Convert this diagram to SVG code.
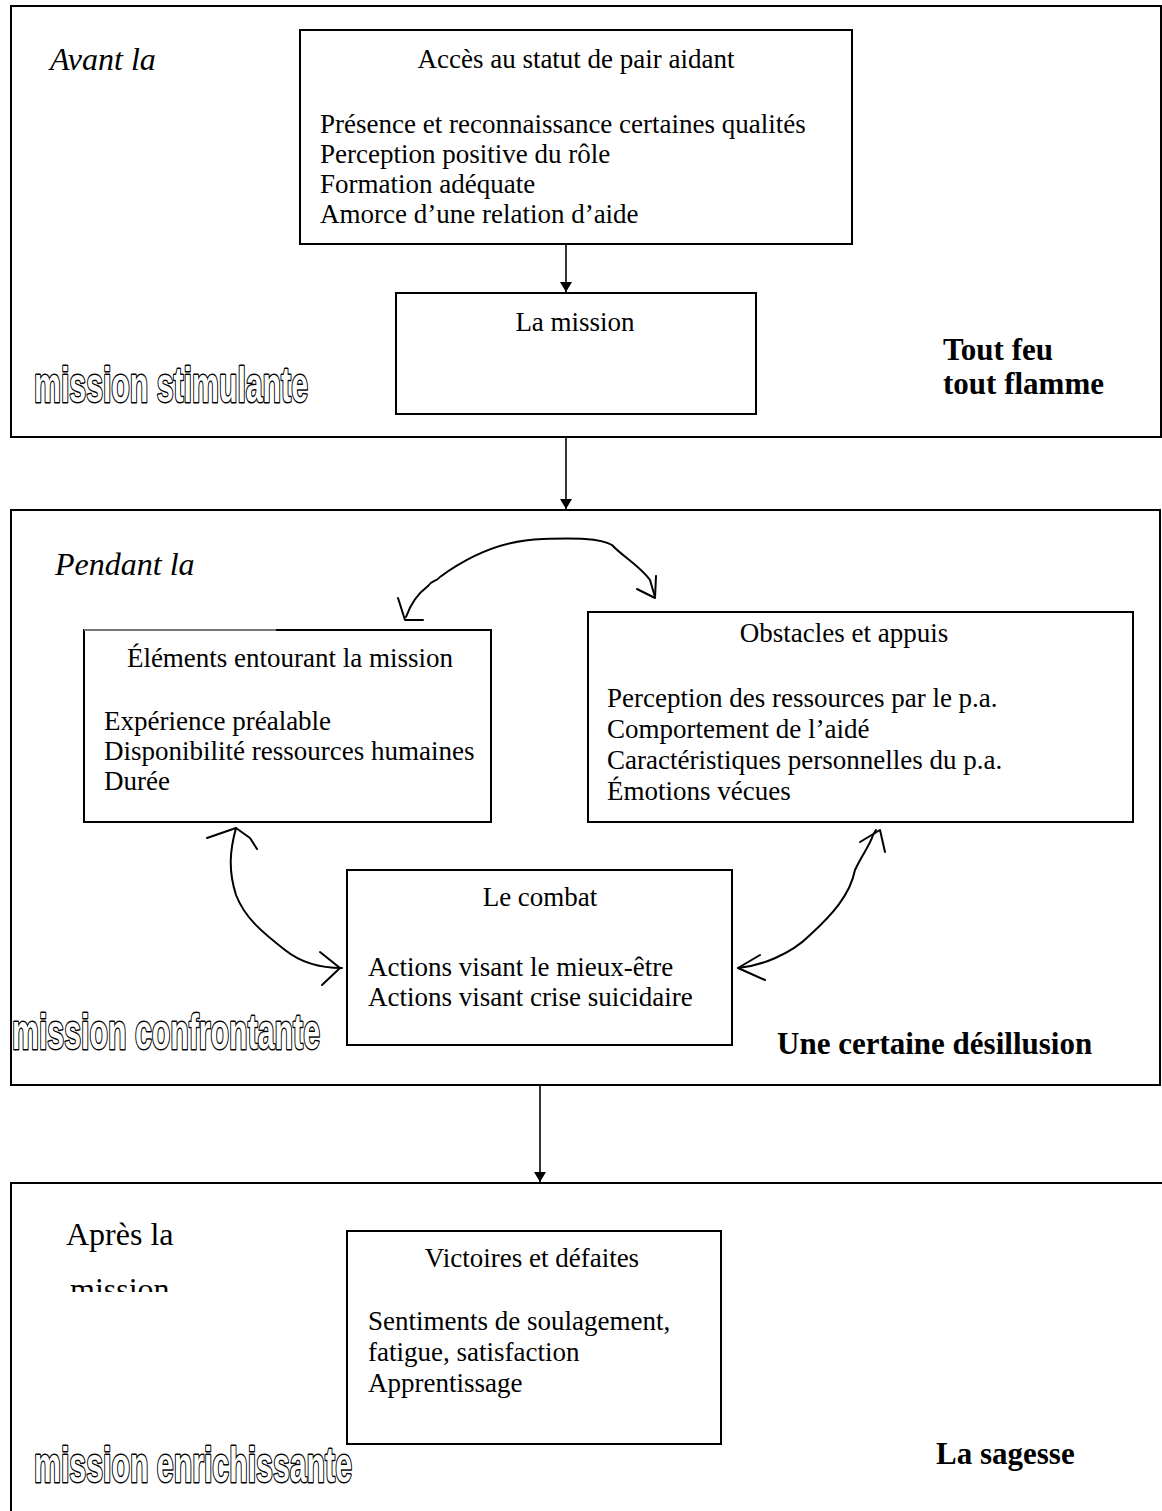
<svg xmlns="http://www.w3.org/2000/svg" width="1162" height="1511" viewBox="0 0 1162 1511">
<style>
.frame{fill:none;stroke:#000;stroke-width:2}
.box{fill:#fff;stroke:#000;stroke-width:2}
.t{font-family:"Liberation Serif","Times New Roman",serif;font-size:27px;fill:#000}
.c{text-anchor:middle}
.i{font-style:italic;font-size:32px}
.big{font-size:32px}
.b{font-weight:bold;font-size:31px}
.o{font-family:"Liberation Sans",Arial,sans-serif;font-weight:bold;font-size:50px;fill:#fff;stroke:#000;stroke-width:3;paint-order:stroke;stroke-linejoin:round}
.hand{fill:none;stroke:#000;stroke-width:2;stroke-linecap:round;stroke-linejoin:round}
.conn{stroke:#000;stroke-width:1.6;fill:none}
</style>
<defs>
<marker id="ah" markerWidth="12" markerHeight="12" refX="10" refY="6" orient="auto" markerUnits="userSpaceOnUse">
<path d="M0,0 L10,6 L0,12 z" fill="#000"/>
</marker>
<clipPath id="clipApres"><rect x="0" y="1200" width="300" height="92"/></clipPath>
</defs>
<rect width="1162" height="1511" fill="#fff"/>

<g id="section-avant">
<rect class="frame" x="11" y="6" width="1150" height="431"/>
<text class="t i" x="50" y="70">Avant la</text>
<text class="o" x="34" y="402" textLength="274" lengthAdjust="spacingAndGlyphs">mission stimulante</text>
<text class="t b" x="943" y="360">Tout feu</text>
<text class="t b" x="943" y="394">tout flamme</text>
</g>
<g id="node-acces">
<rect class="box" x="300" y="30" width="552" height="214"/>
<text class="t c" x="576" y="68">Accès au statut de pair aidant</text>
<text class="t" x="320" y="133">Présence et reconnaissance certaines qualités</text>
<text class="t" x="320" y="163">Perception positive du rôle</text>
<text class="t" x="320" y="193">Formation adéquate</text>
<text class="t" x="320" y="223">Amorce d’une relation d’aide</text>
</g>
<g id="node-mission">
<rect class="box" x="396" y="293" width="360" height="121"/>
<text class="t c" x="575" y="331">La mission</text>
</g>

<g id="section-pendant">
<rect class="frame" x="11" y="510" width="1149" height="575"/>
<text class="t i" x="55" y="575">Pendant la</text>
<text class="o" x="12" y="1049" textLength="308" lengthAdjust="spacingAndGlyphs">mission confrontante</text>
<text class="t b" x="777" y="1054">Une certaine désillusion</text>
</g>
<g id="node-elements">
<rect class="box" x="84" y="630" width="407" height="192"/>
<line x1="84" y1="630" x2="276" y2="630" stroke="#777" stroke-width="2"/>
<text class="t c" x="290" y="667">Éléments entourant la mission</text>
<text class="t" x="104" y="730">Expérience préalable</text>
<text class="t" x="104" y="760">Disponibilité ressources humaines</text>
<text class="t" x="104" y="790">Durée</text>
</g>
<g id="node-obstacles">
<rect class="box" x="588" y="612" width="545" height="210"/>
<text class="t c" x="844" y="642">Obstacles et appuis</text>
<text class="t" x="607" y="707">Perception des ressources par le p.a.</text>
<text class="t" x="607" y="738">Comportement de l’aidé</text>
<text class="t" x="607" y="769">Caractéristiques personnelles du p.a.</text>
<text class="t" x="607" y="800">Émotions vécues</text>
</g>
<g id="node-combat">
<rect class="box" x="347" y="870" width="385" height="175"/>
<text class="t c" x="540" y="906">Le combat</text>
<text class="t" x="368" y="976">Actions visant le mieux-être</text>
<text class="t" x="368" y="1006">Actions visant crise suicidaire</text>
</g>

<g id="section-apres">
<rect class="frame" x="11" y="1183" width="1160" height="340"/>
<text class="t big" x="66" y="1245">Après la</text>
<text class="t big" x="70" y="1300" clip-path="url(#clipApres)">mission</text>
<text class="o" x="34" y="1482" textLength="318" lengthAdjust="spacingAndGlyphs">mission enrichissante</text>
<text class="t b" x="936" y="1464">La sagesse</text>
</g>
<g id="node-victoires">
<rect class="box" x="347" y="1231" width="374" height="213"/>
<text class="t c" x="532" y="1267">Victoires et défaites</text>
<text class="t" x="368" y="1330">Sentiments de soulagement,</text>
<text class="t" x="368" y="1361">fatigue, satisfaction</text>
<text class="t" x="368" y="1392">Apprentissage</text>
</g>

<g id="connectors">
<line class="conn" x1="566" y1="244" x2="566" y2="292" marker-end="url(#ah)"/>
<line class="conn" x1="566" y1="437" x2="566" y2="509" marker-end="url(#ah)"/>
<line class="conn" x1="540" y1="1085" x2="540" y2="1182" marker-end="url(#ah)"/>
<path class="hand" d="M406,617 C412,600 420,592 428,586 C432,580 436,582 440,577 C470,555 505,540 543,539 C575,538 600,538 612,545 C622,556 640,566 650,580 L655,597"/>
<path class="hand" d="M398,598 L405,620 L423,620"/>
<path class="hand" d="M656,576 L655,598 L637,589"/>
<path class="hand" d="M342,968 C320,968 300,962 285,950 C262,932 245,918 236,895 C228,870 230,850 236,828"/>
<path class="hand" d="M207,838 L236,828 L250,838 L257,849"/>
<path class="hand" d="M320,952 L340,968 L322,985"/>
<path class="hand" d="M738,968 C760,966 790,955 810,935 C832,915 850,895 855,870 C862,855 870,845 873,835 L876,830"/>
<path class="hand" d="M860,842 L880,830 L885,852"/>
<path class="hand" d="M760,955 L738,968 L765,980"/>
</g>
</svg>
